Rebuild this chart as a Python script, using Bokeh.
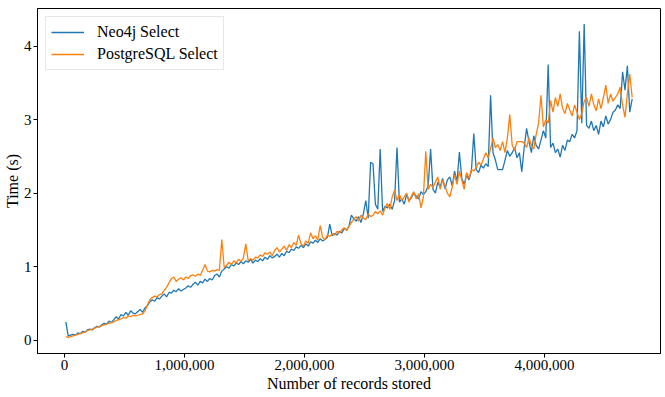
from bokeh.plotting import figure
from bokeh.models import FixedTicker, NumeralTickFormatter, Range1d, Legend, LegendItem
from bokeh.embed import file_html
from bokeh.resources import INLINE

# number of records stored (x), every 20,000 records from 10,000
records = list(range(10000, 4730001, 20000))

neo4j_select = [
    0.25, 0.06, 0.07, 0.08, 0.07, 0.10, 0.09, 0.12, 0.11, 0.14,
    0.15, 0.14, 0.17, 0.19, 0.18, 0.21, 0.23, 0.22, 0.26, 0.24,
    0.28, 0.32, 0.29, 0.35, 0.33, 0.38, 0.34, 0.40, 0.37, 0.36,
    0.39, 0.42, 0.38, 0.44, 0.47, 0.52, 0.55, 0.53, 0.58, 0.56,
    0.60, 0.63, 0.59, 0.65, 0.64, 0.68, 0.66, 0.70, 0.67, 0.69,
    0.71, 0.74, 0.72, 0.76, 0.79, 0.75, 0.80, 0.78, 0.83, 0.80,
    0.84, 0.82, 0.88, 0.90, 0.86, 0.94, 0.97, 1.00, 0.98, 1.03,
    1.01, 1.05, 1.03, 1.07, 1.04, 1.08, 1.06, 1.10, 1.05, 1.09,
    1.07, 1.11, 1.08, 1.13, 1.10, 1.15, 1.12, 1.14, 1.17, 1.13,
    1.18, 1.15, 1.21, 1.19, 1.24, 1.22, 1.27, 1.25, 1.29, 1.26,
    1.31, 1.28, 1.34, 1.32, 1.36, 1.33, 1.38, 1.35, 1.37, 1.40,
    1.58, 1.42, 1.45, 1.43, 1.48, 1.46, 1.52, 1.50, 1.55, 1.70,
    1.65, 1.62, 1.68, 1.60, 1.72, 1.90, 1.66, 2.42, 2.40, 1.85,
    1.78, 2.60, 1.75, 1.82, 1.80, 1.85, 1.78, 1.90, 2.62, 1.88,
    1.92, 1.85, 1.98, 1.90, 1.94, 2.00, 1.96, 1.92, 2.02, 1.98,
    2.02, 2.10, 2.60, 2.05, 2.00, 2.15, 2.08, 2.20, 2.06, 2.18,
    2.22, 2.10, 2.30, 2.15, 2.56, 2.20, 2.12, 2.25, 2.18, 2.30,
    2.81, 2.32, 2.28, 2.38, 2.34, 2.40, 2.36, 3.33, 2.55, 2.45,
    2.32, 2.32, 2.32, 2.45, 2.58, 2.50, 2.55, 2.62, 2.48, 2.55,
    2.29, 2.62, 2.88, 2.70, 2.55, 2.78, 2.65, 2.60, 2.72, 2.85,
    2.75, 3.75, 2.62, 2.68, 2.55, 2.60, 2.49, 2.65, 2.58, 2.72,
    2.70, 2.80, 2.75, 2.85, 4.20, 2.95, 4.30, 2.92, 2.88, 2.98,
    2.85, 2.92, 2.80, 2.98, 2.90, 3.05, 2.94, 3.00, 3.10, 3.13,
    3.20, 3.15, 3.65, 3.40, 3.73, 3.10, 3.28,
]

postgresql_select = [
    0.05, 0.04, 0.05, 0.06, 0.07, 0.08, 0.09, 0.10, 0.11, 0.13,
    0.14, 0.15, 0.16, 0.18, 0.19, 0.20, 0.21, 0.22, 0.23, 0.24,
    0.25, 0.27, 0.28, 0.29, 0.31, 0.30, 0.33, 0.32, 0.34, 0.33,
    0.34, 0.35, 0.36, 0.40, 0.48, 0.55, 0.58, 0.60, 0.59, 0.62,
    0.63, 0.68, 0.72, 0.78, 0.84, 0.86, 0.80, 0.83, 0.85, 0.82,
    0.86, 0.84, 0.88, 0.89, 0.87, 0.90, 0.88, 0.95, 1.03, 0.94,
    0.93, 0.95, 0.94, 0.96, 0.95, 1.37, 0.99, 1.02, 1.06, 1.03,
    1.08, 1.05, 1.10, 1.07, 1.12, 1.31, 1.08, 1.11, 1.09, 1.13,
    1.12, 1.16, 1.14, 1.19, 1.17, 1.20, 1.15, 1.22, 1.26, 1.20,
    1.24, 1.28, 1.22, 1.30, 1.26, 1.33, 1.29, 1.43, 1.31, 1.28,
    1.35, 1.32, 1.46, 1.38, 1.42, 1.36, 1.56, 1.40, 1.37, 1.43,
    1.41, 1.45, 1.43, 1.48, 1.46, 1.50, 1.53, 1.49, 1.55, 1.60,
    1.65, 1.68, 1.62, 1.70, 1.66, 1.64, 1.72, 1.68, 1.70, 1.75,
    1.72, 1.76, 1.70, 1.80, 1.86, 1.78, 1.95, 2.04, 1.90, 1.98,
    1.90, 1.95, 2.00, 1.88, 1.96, 2.02, 1.92, 1.99, 1.80, 1.95,
    2.57, 2.05, 2.12, 2.08, 2.15, 2.22, 2.05, 2.18, 2.10, 2.00,
    1.95, 2.08, 2.25, 2.12, 2.30, 2.18, 2.05, 2.28, 2.20, 2.32,
    2.30, 2.35, 2.42, 2.38, 2.46, 2.55, 2.48, 2.60, 2.75, 2.62,
    2.66, 2.58, 2.70, 2.55, 2.75, 3.07, 2.65, 2.58, 2.70, 2.70,
    2.70, 2.68, 2.62, 2.75, 2.65, 2.60, 2.80, 2.95, 3.33, 2.90,
    3.00, 2.95, 3.26, 3.10, 3.30, 3.18, 3.35, 3.15, 3.08, 3.22,
    3.13, 3.05, 3.20, 3.10, 3.00, 3.08, 3.25, 3.30, 3.18, 3.35,
    3.20, 3.12, 3.28, 3.15, 3.30, 3.47, 3.22, 3.35, 3.25, 3.30,
    3.35, 3.44, 3.20, 3.03, 3.35, 3.62, 3.30,
]

x_ticks = [0, 1000000, 2000000, 3000000, 4000000]
y_ticks = [0, 1, 2, 3, 4]
series_names = ["Neo4j Select", "PostgreSQL Select"]
series_colors = ["#1f77b4", "#ff7f0e"]

FONT = "Liberation Serif"

p = figure(width=664, height=396, output_backend="svg", toolbar_location=None,
           x_range=Range1d(-226000, 4966000), y_range=Range1d(-0.18, 4.51),
           min_border_top=8, min_border_right=4, min_border_left=37,
           min_border_bottom=43)

r1 = p.line(records, neo4j_select, line_color=series_colors[0], line_width=1.3)
r2 = p.line(records, postgresql_select, line_color=series_colors[1], line_width=1.3)

p.xgrid.visible = False
p.ygrid.visible = False
p.outline_line_color = "black"
p.outline_line_width = 1
p.background_fill_color = "white"
p.border_fill_color = "white"

p.xaxis.ticker = FixedTicker(ticks=x_ticks)
p.yaxis.ticker = FixedTicker(ticks=y_ticks)
p.xaxis.formatter = NumeralTickFormatter(format="0,0")
p.xaxis.axis_label = "Number of records stored"
p.yaxis.axis_label = "Time (s)"

for ax in (p.xaxis[0], p.yaxis[0]):
    ax.axis_line_color = "black"
    ax.major_tick_line_color = "black"
    ax.major_tick_out = 4
    ax.major_tick_in = 0
    ax.minor_tick_line_color = None
    ax.major_label_text_font = FONT
    ax.major_label_text_font_size = "15px"
    ax.major_label_text_color = "black"
    ax.axis_label_text_font = FONT
    ax.axis_label_text_font_size = "16px"
    ax.axis_label_text_font_style = "normal"
    ax.axis_label_text_color = "black"
    ax.major_label_standoff = 2
    ax.axis_label_standoff = 2
p.yaxis[0].axis_label_standoff = 0

legend = Legend(items=[LegendItem(label=series_names[0], renderers=[r1]),
                       LegendItem(label=series_names[1], renderers=[r2])],
                location="top_left")
legend.label_text_font = FONT
legend.label_text_font_size = "16px"
legend.label_text_color = "black"
legend.border_line_color = "#d0d0d0"
legend.border_line_width = 1
legend.background_fill_alpha = 0.9
legend.padding = 5
legend.margin = 8
legend.glyph_width = 33
legend.glyph_height = 20
legend.label_height = 20
legend.label_standoff = 13
legend.spacing = 2
p.add_layout(legend)

open("out.html", "w").write(file_html(p, INLINE))
